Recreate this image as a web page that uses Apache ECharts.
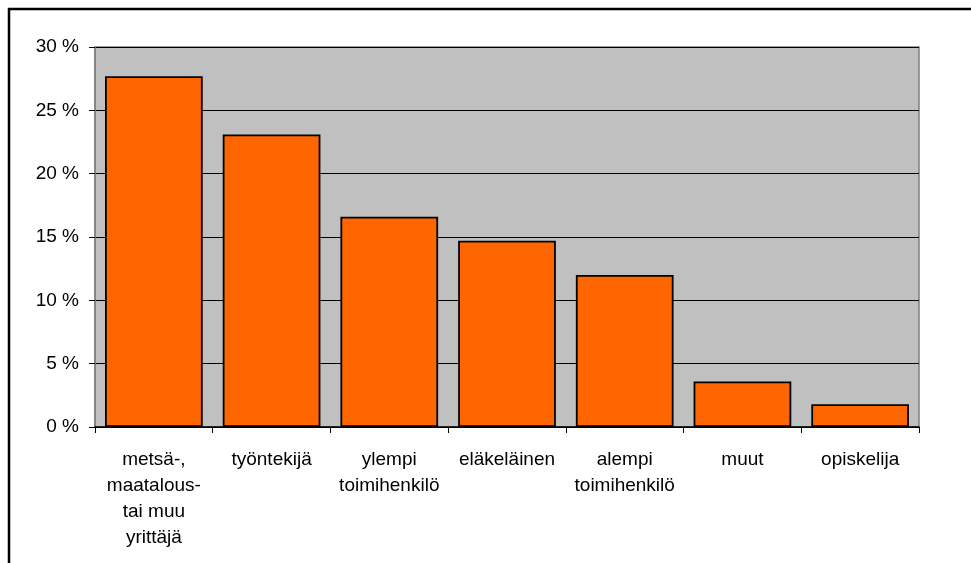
<!DOCTYPE html>
<html>
<head>
<meta charset="utf-8">
<script src="https://cdn.jsdelivr.net/npm/echarts@6/dist/echarts.min.js"></script>
<style>
html,body{margin:0;padding:0;background:#fff;}
#chart{width:971px;height:563px;}
</style>
</head>
<body>
<div id="chart"></div>
<script>
const categories = ["metsä-,\nmaatalous-\ntai muu\nyrittäjä", "työntekijä", "ylempi\ntoimihenkilö", "eläkeläinen", "alempi\ntoimihenkilö", "muut", "opiskelija"];
const values = [27.7, 23.1, 16.6, 14.7, 12.0, 3.6, 1.8];
const yTicks = [0, 5, 10, 15, 20, 25, 30];

const chart = echarts.init(document.getElementById('chart'), null, {renderer: 'canvas'});
const font = "'Liberation Sans', Arial, sans-serif";
chart.setOption({
  animation: false,
  backgroundColor: '#ffffff',
  graphic: [{
    type: 'rect',
    shape: {x: 9, y: 9, width: 1000, height: 600},
    style: {fill: 'none', stroke: '#000', lineWidth: 2.5},
    z: 100
  }],
  grid: {
    left: 95, top: 47, right: 52, bottom: 136,
    show: true, backgroundColor: '#C0C0C0', borderColor: '#808080', borderWidth: 1.5
  },
  xAxis: {
    type: 'category',
    data: categories,
    boundaryGap: true,
    axisLine: {show: true, lineStyle: {color: '#000', width: 1.5}},
    axisTick: {show: true, length: 6, alignWithLabel: false, interval: 0, lineStyle: {color: '#000'}},
    axisLabel: {interval: 0, color: '#000', fontSize: 19, fontFamily: font, lineHeight: 26, margin: 20}
  },
  yAxis: {
    type: 'value',
    min: yTicks[0], max: yTicks[yTicks.length - 1], interval: 5,
    axisLine: {show: true, lineStyle: {color: '#808080', width: 1.5}},
    axisTick: {show: true, length: 6, lineStyle: {color: '#000'}},
    axisLabel: {color: '#000', fontSize: 19, fontFamily: font, margin: 16, formatter: '{value} %'},
    splitLine: {show: true, lineStyle: {color: '#000', width: 1}}
  },
  series: [{
    type: 'bar',
    data: values,
    barWidth: '83%',
    itemStyle: {color: '#FF6600', borderColor: '#000', borderWidth: 1.8}
  }]
});
</script>
</body>
</html>
